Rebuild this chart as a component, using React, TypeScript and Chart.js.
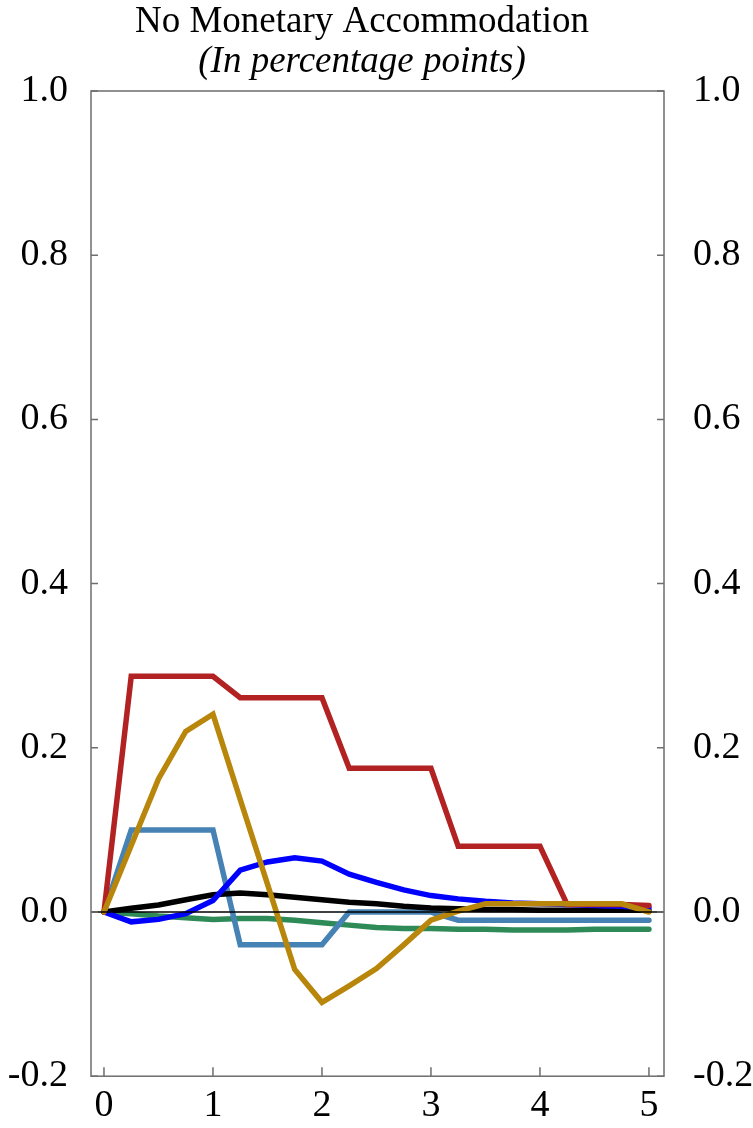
import React, { useEffect, useRef } from "react";
import { Chart, registerables } from "chart.js";

Chart.register(...registerables);

// Horizon in years (quarterly steps)
const quarters = [0, 0.25, 0.5, 0.75, 1, 1.25, 1.5, 1.75, 2, 2.25, 2.5, 2.75, 3, 3.25, 3.5, 3.75, 4, 4.25, 4.5, 4.75, 5];

const redSeries = [0, 0.287, 0.287, 0.287, 0.287, 0.261, 0.261, 0.261, 0.261, 0.175, 0.175, 0.175, 0.175, 0.08, 0.08, 0.08, 0.08, 0.009, 0.009, 0.009, 0.008];
const goldSeries = [0, 0.081, 0.162, 0.22, 0.241, 0.137, 0.034, -0.07, -0.11, -0.09, -0.069, -0.04, -0.01, 0.001, 0.01, 0.01, 0.01, 0.01, 0.01, 0.01, 0.0];
const steelSeries = [0, 0.1, 0.1, 0.1, 0.1, -0.04, -0.04, -0.04, -0.04, 0, 0, 0, 0, -0.01, -0.01, -0.01, -0.01, -0.01, -0.01, -0.01, -0.01];
const blueSeries = [0, -0.012, -0.009, -0.002, 0.014, 0.051, 0.061, 0.066, 0.062, 0.046, 0.036, 0.027, 0.02, 0.016, 0.013, 0.011, 0.01, 0.009, 0.008, 0.007, 0.005];
const blackSeries = [0, 0.0045, 0.0085, 0.015, 0.021, 0.023, 0.021, 0.018, 0.015, 0.012, 0.01, 0.007, 0.005, 0.004, 0.003, 0.003, 0.002, 0.002, 0.002, 0.002, 0.002];
const greenSeries = [0, -0.002, -0.005, -0.007, -0.009, -0.008, -0.008, -0.01, -0.013, -0.016, -0.019, -0.02, -0.02, -0.021, -0.021, -0.022, -0.022, -0.022, -0.021, -0.021, -0.021];

const xTicks = [0, 1, 2, 3, 4, 5];
const yTicks = [-0.2, 0, 0.2, 0.4, 0.6, 0.8, 1.0];

const titleText = "No Monetary Accommodation";
const subtitleText = "(In percentage points)";

const FONT = "'Liberation Serif', 'Times New Roman', serif";
const TICK_SIZE = 38;
const TITLE_SIZE = 37;

const toPoints = (vals: number[]) => vals.map((v, i) => ({ x: quarters[i], y: v }));

const frameAndTitle = {
  id: "frameAndTitle",
  afterDatasetsDraw(chart: any) {
    const { ctx, chartArea } = chart;
    const { left, right, top, bottom } = chartArea;
    const xs = chart.scales.x;
    const ys = chart.scales.y;
    ctx.save();
    // zero line
    const y0 = ys.getPixelForValue(0);
    ctx.strokeStyle = "#000";
    ctx.lineWidth = 1.5;
    ctx.beginPath();
    ctx.moveTo(left, y0);
    ctx.lineTo(right, y0);
    ctx.stroke();
    // frame
    ctx.strokeStyle = "#6e6e6e";
    ctx.lineWidth = 1.5;
    ctx.strokeRect(left, top, right - left, bottom - top);
    // inward ticks
    ctx.beginPath();
    yTicks.forEach((v) => {
      const py = ys.getPixelForValue(v);
      ctx.moveTo(left, py);
      ctx.lineTo(left + 7, py);
      ctx.moveTo(right, py);
      ctx.lineTo(right - 7, py);
    });
    xTicks.forEach((v) => {
      const px = xs.getPixelForValue(v);
      ctx.moveTo(px, bottom);
      ctx.lineTo(px, bottom - 9);
    });
    ctx.stroke();
    ctx.restore();
  },
  afterDraw(chart: any) {
    const { ctx } = chart;
    ctx.save();
    ctx.fillStyle = "#000";
    ctx.textAlign = "center";
    ctx.textBaseline = "middle";
    ctx.font = `${TITLE_SIZE}px ${FONT}`;
    ctx.fillText(titleText, 362, 22);
    ctx.font = `italic ${TITLE_SIZE}px ${FONT}`;
    ctx.fillText(subtitleText, 362, 62);
    ctx.restore();
  },
};

export default function App() {
  const canvasRef = useRef<HTMLCanvasElement | null>(null);

  useEffect(() => {
    if (!canvasRef.current) return;
    const line = (label: string, data: number[], color: string) => ({
      label,
      data: toPoints(data),
      borderColor: color,
      backgroundColor: color,
      borderWidth: 5.5,
      pointRadius: 0,
      borderCapStyle: "round" as const,
      borderJoinStyle: "miter" as const,
      tension: 0,
      fill: false,
    });
    const chart = new Chart(canvasRef.current, {
      type: "line",
      data: {
        datasets: [
          line("gold", goldSeries, "#B8860B"),
          line("red", redSeries, "#B22222"),
          line("blue", blueSeries, "#0000FF"),
          line("black", blackSeries, "#000000"),
          line("steel", steelSeries, "#4682B4"),
          line("green", greenSeries, "#2E8B57"),
        ],
      },
      options: {
        responsive: false,
        animation: false,
        layout: { padding: { top: 91, left: 0, right: 0, bottom: 0 } },
        plugins: { legend: { display: false }, tooltip: { enabled: false }, title: { display: false } },
        scales: {
          x: {
            type: "linear",
            min: -0.119,
            max: 5.138,
            grid: { display: false, drawTicks: false },
            border: { display: false },
            afterBuildTicks: (s: any) => {
              s.ticks = xTicks.map((v) => ({ value: v }));
            },
            afterFit: (s: any) => {
              s.height = 51;
            },
            ticks: {
              padding: 7,
              color: "#000",
              font: { family: FONT, size: TICK_SIZE },
              callback: (v: any) => String(v),
              maxRotation: 0,
            },
          },
          y: {
            type: "linear",
            position: "left",
            min: -0.2,
            max: 1.0,
            grid: { display: false, drawTicks: false },
            border: { display: false },
            afterBuildTicks: (s: any) => {
              s.ticks = yTicks.map((v) => ({ value: v }));
            },
            afterFit: (s: any) => {
              s.width = 91;
            },
            ticks: {
              padding: 23,
              color: "#000",
              font: { family: FONT, size: TICK_SIZE },
              callback: (v: any) => Number(v).toFixed(1),
            },
          },
          y2: {
            type: "linear",
            position: "right",
            min: -0.2,
            max: 1.0,
            grid: { display: false, drawTicks: false },
            border: { display: false },
            afterBuildTicks: (s: any) => {
              s.ticks = yTicks.map((v) => ({ value: v }));
            },
            afterFit: (s: any) => {
              s.width = 89;
            },
            ticks: {
              padding: 29,
              color: "#000",
              font: { family: FONT, size: TICK_SIZE },
              callback: (v: any) => Number(v).toFixed(1),
            },
          },
        },
      },
      plugins: [frameAndTitle],
    });
    return () => chart.destroy();
  }, []);

  return (
    <div style={{ position: "absolute", left: 0, top: 0, width: 753, height: 1128, background: "#fff" }}>
      <canvas ref={canvasRef} width={753} height={1128} style={{ display: "block" }} />
    </div>
  );
}
